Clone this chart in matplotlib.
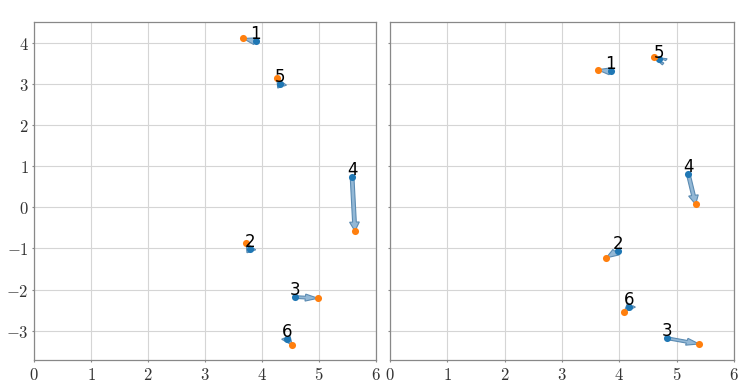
import matplotlib
matplotlib.use("Agg")
import matplotlib.pyplot as plt
from matplotlib.ticker import FuncFormatter

plt.rcParams["mathtext.fontset"] = "cm"

# ── Data ─────────────────────────────────────────────────────────────────────
labels = ["1", "2", "3", "4", "5", "6"]

# left panel: start (blue) -> end (orange)
left_start_x = [3.89, 3.79, 4.58, 5.58, 4.32, 4.44]
left_start_y = [4.03, -1.02, -2.18, 0.73, 3.00, -3.20]
left_end_x = [3.67, 3.72, 4.98, 5.63, 4.26, 4.53]
left_end_y = [4.10, -0.87, -2.21, -0.58, 3.13, -3.35]

# right panel
right_start_x = [3.85, 3.98, 4.83, 5.20, 4.69, 4.17]
right_start_y = [3.30, -1.06, -3.18, 0.82, 3.59, -2.43]
right_end_x = [3.62, 3.77, 5.39, 5.33, 4.60, 4.08]
right_end_y = [3.34, -1.23, -3.32, 0.07, 3.64, -2.55]

X_LIM = (0, 6)
Y_LIM = (-3.71, 4.50)

BLUE = "#1f77b4"
ORANGE = "#ff7f0e"
SPINE = "#888888"


def math_fmt(v, pos):
    return f"${v:g}$"


def draw_panel(ax, sx, sy, ex, ey):
    for i in range(len(labels)):
        ax.arrow(sx[i], sy[i], ex[i] - sx[i], ey[i] - sy[i],
                 width=0.065, head_width=0.17, head_length=0.22,
                 length_includes_head=True,
                 facecolor="#93b8d6",
                 edgecolor="#5b8bb2",
                 linewidth=0.8, zorder=2)
    ax.scatter(sx, sy, s=26, color=BLUE, zorder=3, linewidths=0)
    ax.scatter(ex, ey, s=26, color=ORANGE, zorder=3, linewidths=0)
    for i, lab in enumerate(labels):
        ax.text(sx[i], sy[i] - 0.05, lab, ha="center", va="bottom",
                fontsize=12, family="DejaVu Sans", zorder=4)

    ax.set_xlim(*X_LIM)
    ax.set_ylim(*Y_LIM)
    ax.set_xticks(range(0, 7))
    ax.set_yticks(range(-3, 5))
    ax.xaxis.set_major_formatter(FuncFormatter(math_fmt))
    ax.yaxis.set_major_formatter(FuncFormatter(math_fmt))
    ax.grid(True, color="#d5d5d5", linewidth=0.8)
    ax.set_axisbelow(True)
    ax.tick_params(length=1.5, width=0.8, color=SPINE, pad=2.5,
                   labelsize=12, labelcolor="#333333")
    for sp in ax.spines.values():
        sp.set_color(SPINE)
        sp.set_linewidth(0.9)


fig = plt.figure(figsize=(7.48, 3.83), dpi=100)
ax_l = fig.add_axes([0.0455, 0.060, 0.4572, 0.8826])
ax_r = fig.add_axes([0.5214, 0.060, 0.4599, 0.8826], sharey=ax_l)

draw_panel(ax_l, left_start_x, left_start_y, left_end_x, left_end_y)
draw_panel(ax_r, right_start_x, right_start_y, right_end_x, right_end_y)
ax_r.tick_params(labelleft=False)

fig.savefig("out.png", dpi=100)
